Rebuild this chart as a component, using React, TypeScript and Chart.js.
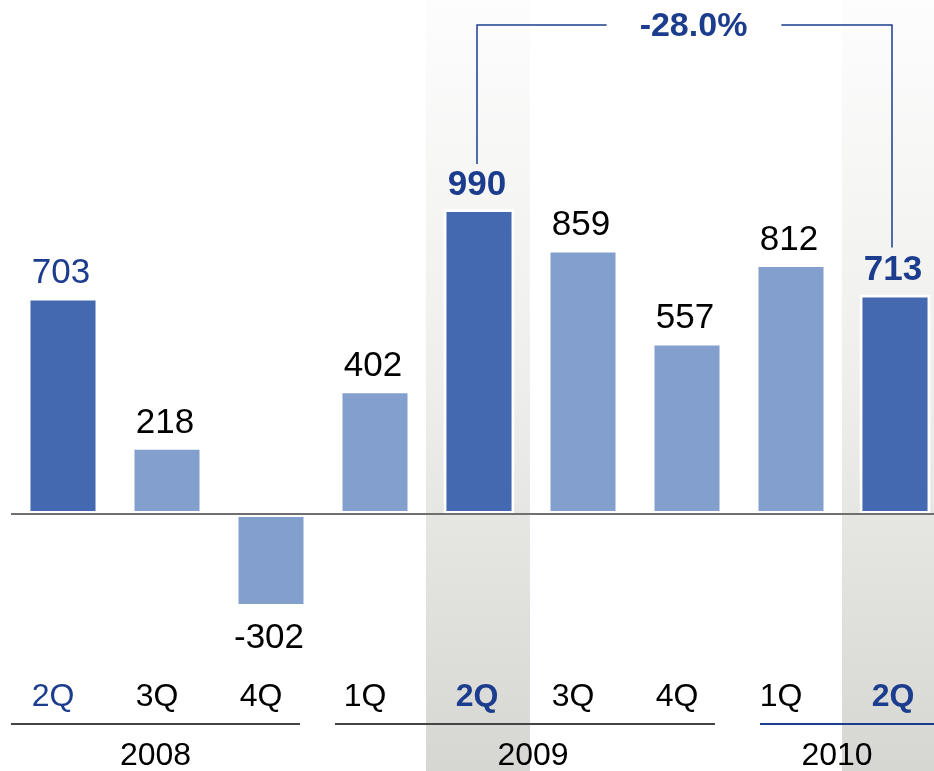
import React, { useEffect, useRef } from "react";
import { Chart, registerables } from "chart.js";

Chart.register(...registerables);

const quarters = ["2Q", "3Q", "4Q", "1Q", "2Q", "3Q", "4Q", "1Q", "2Q"];
const values = [703, 218, -302, 402, 990, 859, 557, 812, 713];
const boldIdx = [4, 8];
const blueIdx = [0, 4, 8];
const years = ["2008", "2009", "2010"];
const changeLabel = "-28.0%";
const compareFrom = 4;
const compareTo = 8;

const DARK = "#4469b0";
const LIGHT = "#839fcd";
const BLUE_TEXT = "#1c3d8e";
const FONT = "'Liberation Sans', Arial, Helvetica, sans-serif";

const W = 960;
const H = 771;

const decorPlugin = {
  id: "decor",
  beforeDatasetsDraw(chart: any) {
    const { ctx, scales } = chart;
    const x = scales.x;
    const step = x.getPixelForValue(1) - x.getPixelForValue(0);
    ctx.save();
    [compareFrom, compareTo].forEach((i) => {
      const cx = x.getPixelForValue(i);
      const g = ctx.createLinearGradient(0, 0, 0, H);
      g.addColorStop(0, "#fdfdfd");
      g.addColorStop(0.5, "#eeeeec");
      g.addColorStop(1, "#d6d6d2");
      ctx.fillStyle = g;
      ctx.fillRect(cx - step / 2 - 1, 0, step, H);
    });
    ctx.restore();
  },
  afterDatasetsDraw(chart: any) {
    const { ctx, scales, chartArea } = chart;
    const x = scales.x;
    const y = scales.y;
    const cx = (i: number) => x.getPixelForValue(i);
    ctx.save();

    // zero line
    const y0 = y.getPixelForValue(0);
    ctx.strokeStyle = "#707070";
    ctx.lineWidth = 2;
    ctx.beginPath();
    ctx.moveTo(chartArea.left, y0);
    ctx.lineTo(W, y0);
    ctx.stroke();

    // value labels
    ctx.textAlign = "center";
    ctx.textBaseline = "alphabetic";
    const labelTops: number[] = [];
    values.forEach((v, i) => {
      const bold = boldIdx.includes(i);
      const blue = blueIdx.includes(i);
      ctx.font = `${bold ? "bold " : ""}35px ${FONT}`;
      ctx.fillStyle = blue ? BLUE_TEXT : "#000000";
      const p = y.getPixelForValue(v);
      let base;
      if (v >= 0) {
        base = p + 3 - 17;
      } else {
        base = p - 3 + 19 + 25;
      }
      labelTops[i] = base - 25;
      ctx.fillText(String(v), cx(i) - 2, base);
    });

    // quarter labels
    quarters.forEach((q, i) => {
      const bold = boldIdx.includes(i);
      const blue = blueIdx.includes(i);
      ctx.font = `${bold ? "bold " : ""}32px ${FONT}`;
      ctx.fillStyle = blue ? BLUE_TEXT : "#000000";
      ctx.fillText(q, cx(i) + (bold ? -2 : -10), 706);
    });

    // year lines
    const lineY = 724;
    const spans = [
      [cx(0) - 52, cx(2) + 29, "#444444"],
      [cx(3) - 40, cx(6) + 28, "#444444"],
      [cx(7) - 31, W, BLUE_TEXT],
    ] as [number, number, string][];
    spans.forEach(([a, b, c]) => {
      ctx.strokeStyle = c;
      ctx.lineWidth = 2;
      ctx.beginPath();
      ctx.moveTo(a, lineY);
      ctx.lineTo(b, lineY);
      ctx.stroke();
    });
    const yearX = [(cx(0) - 52 + cx(2) + 29) / 2, (cx(3) + cx(6)) / 2 + 2, (cx(7) + cx(8)) / 2 - 6];
    ctx.font = `32px ${FONT}`;
    ctx.fillStyle = "#000000";
    years.forEach((yr, i) => ctx.fillText(yr, yearX[i], 765));

    // bracket
    const bx1 = cx(compareFrom) - 2;
    const bx2 = cx(compareTo) - 3;
    const by = 25;
    ctx.font = `bold 34px ${FONT}`;
    const tw = ctx.measureText(changeLabel).width;
    const tcx = (bx1 + bx2) / 2 + 9;
    ctx.fillStyle = BLUE_TEXT;
    ctx.fillText(changeLabel, tcx, 36);
    ctx.strokeStyle = BLUE_TEXT;
    ctx.lineWidth = 1.5;
    ctx.beginPath();
    ctx.moveTo(bx1, labelTops[compareFrom] - 6);
    ctx.lineTo(bx1, by);
    ctx.lineTo(tcx - tw / 2 - 33, by);
    ctx.moveTo(tcx + tw / 2 + 34, by);
    ctx.lineTo(bx2, by);
    ctx.lineTo(bx2, labelTops[compareTo] - 8);
    ctx.stroke();

    ctx.restore();
  },
};

export default function App() {
  const ref = useRef<HTMLCanvasElement | null>(null);
  useEffect(() => {
    if (!ref.current) return;
    const chart = new Chart(ref.current, {
      type: "bar",
      data: {
        labels: quarters,
        datasets: [
          {
            data: values,
            backgroundColor: values.map((_, i) => (blueIdx.includes(i) ? DARK : LIGHT)),
            borderColor: "#ffffff",
            borderWidth: 3,
            borderSkipped: false,
            barPercentage: 0.683,
            categoryPercentage: 1,
          },
        ],
      },
      options: {
        responsive: false,
        animation: false,
        devicePixelRatio: 1,
        layout: { padding: { left: 11, right: 13, top: 52, bottom: 10.6 } },
        plugins: { legend: { display: false }, tooltip: { enabled: false } },
        scales: {
          x: { display: false, grid: { display: false } },
          y: { display: false, min: -800, max: 1500, grid: { display: false } },
        },
      },
      plugins: [decorPlugin],
    });
    return () => chart.destroy();
  }, []);
  return (
    <div
      style={{
        position: "fixed",
        left: 0,
        top: 0,
        width: "100vw",
        height: "100vh",
        overflow: "hidden",
        background: "#ffffff",
      }}
    >
      <canvas ref={ref} width={W} height={H} style={{ display: "block", width: W, height: H }} />
    </div>
  );
}
